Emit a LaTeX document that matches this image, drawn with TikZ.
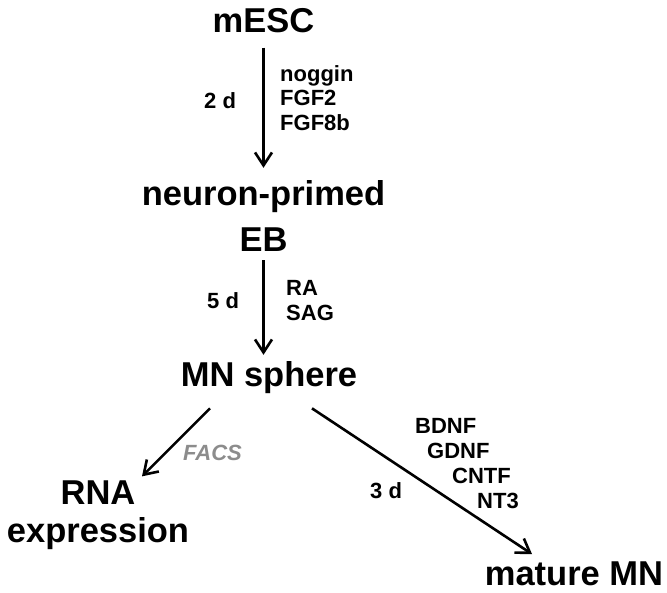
\documentclass[tikz,border=0pt]{standalone}
\usepackage{fontspec}
\setmainfont{Liberation Sans}
\usepackage{tikz}
\usetikzlibrary{arrows.meta}
\definecolor{facsgray}{HTML}{8C8C8C}

\tikzset{
  stage/.style={font=\fontsize{34.5}{38}\selectfont\bfseries, align=center, inner sep=0pt},
  agent/.style={font=\fontsize{22}{25}\selectfont\bfseries, inner sep=0pt, anchor=base west},
  sorting/.style={agent, font=\fontsize{22}{25}\selectfont\bfseries\itshape, text=facsgray},
  flow/.style={line width=2.6pt, -{Straight Barb[length=13pt,width=17pt]}},
}

\begin{document}
\begin{tikzpicture}[x=1pt,y=-1pt]
\useasboundingbox (0,0) rectangle (667,592);
% stages
\node[stage, anchor=base] (mesc) at (263.5,32) {mESC};
\node[stage] (neb) at (263.5,215.5) {neuron-primed\\[8pt]EB};
\node[stage, anchor=base] (mns) at (269,386) {MN sphere};
\node[stage] (rna) at (98,515) {RNA\\expression};
\node[stage, anchor=base] (mmn) at (574,585) {mature MN};
% arrows
\draw[flow, shorten <=15pt, shorten >=12pt] (mesc.south) -- (neb.north);
\draw[flow, shorten <=9pt, shorten >=6pt] (neb.south) -- (neb.south |- mns.north);
\draw[flow] ([xshift=-59pt,yshift=-15pt]mns.south) -- ([xshift=44pt,yshift=4pt]rna.north);
\draw[flow] ([xshift=43pt,yshift=-15pt]mns.south) -- ([xshift=-42pt,yshift=7pt]mmn.north);
% factors and times
\node[agent] (noggin) at (280,81) {noggin};
\node[agent] (fgf2) at (280,105) {FGF2};
\node[agent] (fgf8b) at (280,130) {FGF8b};
\node[agent] (days2) at (204,108) {2 d};
\node[agent] (ra) at (286,295) {RA};
\node[agent] (sag) at (286,320) {SAG};
\node[agent] (days5) at (207,308) {5 d};
\node[sorting] (facs) at (183,460) {FACS};
\node[agent] (bdnf) at (415,433) {BDNF};
\node[agent] (gdnf) at (427,458) {GDNF};
\node[agent] (cntf) at (452,483) {CNTF};
\node[agent] (nt3) at (477,508) {NT3};
\node[agent] (days3) at (370,498) {3 d};
\end{tikzpicture}
\end{document}
